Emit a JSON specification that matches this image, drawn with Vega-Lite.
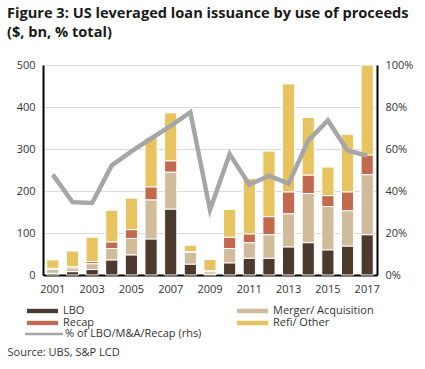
{
  "$schema": "https://vega.github.io/schema/vega-lite/v6.json",
  "width": 334,
  "height": 210,
  "autosize": {"type": "none"},
  "padding": {"left": 43, "top": 65, "right": 48, "bottom": 94},
  "background": "white",
  "title": {
    "text": ["Figure 3: US leveraged loan issuance by use of proceeds", "($, bn, % total)"],
    "anchor": "start",
    "frame": "group",
    "dx": -36,
    "font": "Open Sans",
    "fontSize": 14.6,
    "fontWeight": "bold",
    "color": "#1a1a1a",
    "offset": 19,
    "lineHeight": 19
  },
  "datasets": {
    "bars": [
      {"year": "2001", "use": "LBO", "value": 4}, {"year": "2001", "use": "Merger/ Acquisition", "value": 9}, {"year": "2001", "use": "Recap", "value": 3}, {"year": "2001", "use": "Refi/ Other", "value": 20},
      {"year": "2002", "use": "LBO", "value": 8}, {"year": "2002", "use": "Merger/ Acquisition", "value": 9}, {"year": "2002", "use": "Recap", "value": 3}, {"year": "2002", "use": "Refi/ Other", "value": 37},
      {"year": "2003", "use": "LBO", "value": 13}, {"year": "2003", "use": "Merger/ Acquisition", "value": 14}, {"year": "2003", "use": "Recap", "value": 5}, {"year": "2003", "use": "Refi/ Other", "value": 58},
      {"year": "2004", "use": "LBO", "value": 36}, {"year": "2004", "use": "Merger/ Acquisition", "value": 27}, {"year": "2004", "use": "Recap", "value": 16}, {"year": "2004", "use": "Refi/ Other", "value": 75},
      {"year": "2005", "use": "LBO", "value": 48}, {"year": "2005", "use": "Merger/ Acquisition", "value": 39}, {"year": "2005", "use": "Recap", "value": 21}, {"year": "2005", "use": "Refi/ Other", "value": 75},
      {"year": "2006", "use": "LBO", "value": 86}, {"year": "2006", "use": "Merger/ Acquisition", "value": 93}, {"year": "2006", "use": "Recap", "value": 31}, {"year": "2006", "use": "Refi/ Other", "value": 117},
      {"year": "2007", "use": "LBO", "value": 157}, {"year": "2007", "use": "Merger/ Acquisition", "value": 88}, {"year": "2007", "use": "Recap", "value": 27}, {"year": "2007", "use": "Refi/ Other", "value": 114},
      {"year": "2008", "use": "LBO", "value": 26}, {"year": "2008", "use": "Merger/ Acquisition", "value": 28}, {"year": "2008", "use": "Recap", "value": 2}, {"year": "2008", "use": "Refi/ Other", "value": 15},
      {"year": "2009", "use": "LBO", "value": 2}, {"year": "2009", "use": "Merger/ Acquisition", "value": 6}, {"year": "2009", "use": "Recap", "value": 2}, {"year": "2009", "use": "Refi/ Other", "value": 27},
      {"year": "2010", "use": "LBO", "value": 29}, {"year": "2010", "use": "Merger/ Acquisition", "value": 34}, {"year": "2010", "use": "Recap", "value": 27}, {"year": "2010", "use": "Refi/ Other", "value": 66},
      {"year": "2011", "use": "LBO", "value": 40}, {"year": "2011", "use": "Merger/ Acquisition", "value": 37}, {"year": "2011", "use": "Recap", "value": 21}, {"year": "2011", "use": "Refi/ Other", "value": 132},
      {"year": "2012", "use": "LBO", "value": 40}, {"year": "2012", "use": "Merger/ Acquisition", "value": 56}, {"year": "2012", "use": "Recap", "value": 43}, {"year": "2012", "use": "Refi/ Other", "value": 156},
      {"year": "2013", "use": "LBO", "value": 67}, {"year": "2013", "use": "Merger/ Acquisition", "value": 79}, {"year": "2013", "use": "Recap", "value": 52}, {"year": "2013", "use": "Refi/ Other", "value": 257},
      {"year": "2014", "use": "LBO", "value": 77}, {"year": "2014", "use": "Merger/ Acquisition", "value": 117}, {"year": "2014", "use": "Recap", "value": 44}, {"year": "2014", "use": "Refi/ Other", "value": 137},
      {"year": "2015", "use": "LBO", "value": 60}, {"year": "2015", "use": "Merger/ Acquisition", "value": 103}, {"year": "2015", "use": "Recap", "value": 26}, {"year": "2015", "use": "Refi/ Other", "value": 68},
      {"year": "2016", "use": "LBO", "value": 69}, {"year": "2016", "use": "Merger/ Acquisition", "value": 84}, {"year": "2016", "use": "Recap", "value": 45}, {"year": "2016", "use": "Refi/ Other", "value": 137},
      {"year": "2017", "use": "LBO", "value": 96}, {"year": "2017", "use": "Merger/ Acquisition", "value": 143}, {"year": "2017", "use": "Recap", "value": 47}, {"year": "2017", "use": "Refi/ Other", "value": 214}
    ],
    "share": [
      {"year": "2001", "pct": 0.478}, {"year": "2002", "pct": 0.347}, {"year": "2003", "pct": 0.343},
      {"year": "2004", "pct": 0.522}, {"year": "2005", "pct": 0.589}, {"year": "2006", "pct": 0.65},
      {"year": "2007", "pct": 0.71}, {"year": "2008", "pct": 0.775}, {"year": "2009", "pct": 0.31},
      {"year": "2010", "pct": 0.576}, {"year": "2011", "pct": 0.43}, {"year": "2012", "pct": 0.473},
      {"year": "2013", "pct": 0.435}, {"year": "2014", "pct": 0.64}, {"year": "2015", "pct": 0.736},
      {"year": "2016", "pct": 0.593}, {"year": "2017", "pct": 0.568}
    ]
  },
  "layer": [
    {
      "data": {"name": "bars"},
      "mark": {"type": "bar", "stroke": "white", "strokeWidth": 1},
      "encoding": {
        "x": {
          "field": "year", "type": "ordinal",
          "scale": {"paddingInner": 0.38, "paddingOuter": 0.19},
          "axis": {
            "values": ["2001", "2003", "2005", "2007", "2009", "2011", "2013", "2015", "2017"],
            "labelAngle": 0, "ticks": false, "domainColor": "black", "domainWidth": 2,
            "labelPadding": 8,
            "title": "Source:  UBS, S&P LCD",
            "titleAnchor": "start", "titleAlign": "left", "titleBaseline": "middle",
            "titleX": -36, "titleY": 77,
            "titleFont": "Open Sans", "titleFontSize": 11, "titleFontWeight": "normal", "titleColor": "#333333"
          }
        },
        "y": {
          "field": "value", "type": "quantitative", "stack": "zero",
          "scale": {"domain": [0, 500], "nice": false},
          "axis": {
            "values": [0, 100, 200, 300, 400, 500], "title": null, "grid": true,
            "gridColor": "#dcdcdc", "ticks": false, "domainColor": "black", "domainWidth": 2,
            "labelPadding": 8
          }
        },
        "order": {"field": "use", "sort": "ascending"},
        "color": {
          "field": "use", "type": "nominal",
          "scale": {
            "domain": ["LBO", "Recap", "Merger/ Acquisition", "Refi/ Other"],
            "range": ["#4b3a2d", "#c3694e", "#d0bc9a", "#e8c460"]
          },
          "legend": {
            "title": null, "orient": "none", "legendX": -16, "legendY": 240,
            "columns": 2, "columnPadding": 142, "rowPadding": 0, "clipHeight": 12,
            "symbolType": "M-1,-0.14H1V0.14H-1Z", "symbolSize": 961, "symbolStrokeWidth": 0,
            "labelOffset": 5, "labelFont": "Open Sans", "labelFontSize": 11, "labelColor": "#333333"
          }
        }
      }
    },
    {
      "data": {"name": "share"},
      "mark": {"type": "line", "strokeWidth": 4.5},
      "encoding": {
        "x": {"field": "year", "type": "ordinal"},
        "y": {
          "field": "pct", "type": "quantitative",
          "scale": {"domain": [0, 1], "nice": false},
          "axis": {
            "orient": "right", "format": ".0%", "values": [0, 0.2, 0.4, 0.6, 0.8, 1],
            "title": null, "grid": false, "ticks": false, "domainColor": "black", "domainWidth": 2,
            "labelPadding": 8
          }
        },
        "color": {
          "datum": "% of LBO/M&A/Recap (rhs)",
          "scale": {"range": ["#a6a6a6"]},
          "legend": {
            "title": null, "orient": "none", "legendX": -18, "legendY": 263, "clipHeight": 12,
            "symbolType": "M-1,-0.07H1V0.07H-1Z", "symbolSize": 1444, "symbolStrokeWidth": 0,
            "symbolFillColor": "#a6a6a6",
            "labelOffset": 2, "labelFont": "Open Sans", "labelFontSize": 11, "labelColor": "#333333"
          }
        }
      }
    }
  ],
  "resolve": {"scale": {"y": "independent", "color": "independent"}},
  "config": {
    "view": {"stroke": null},
    "axis": {"labelFont": "Open Sans", "labelFontSize": 11, "labelColor": "#333333"},
    "legend": {"padding": 0}
  }
}
